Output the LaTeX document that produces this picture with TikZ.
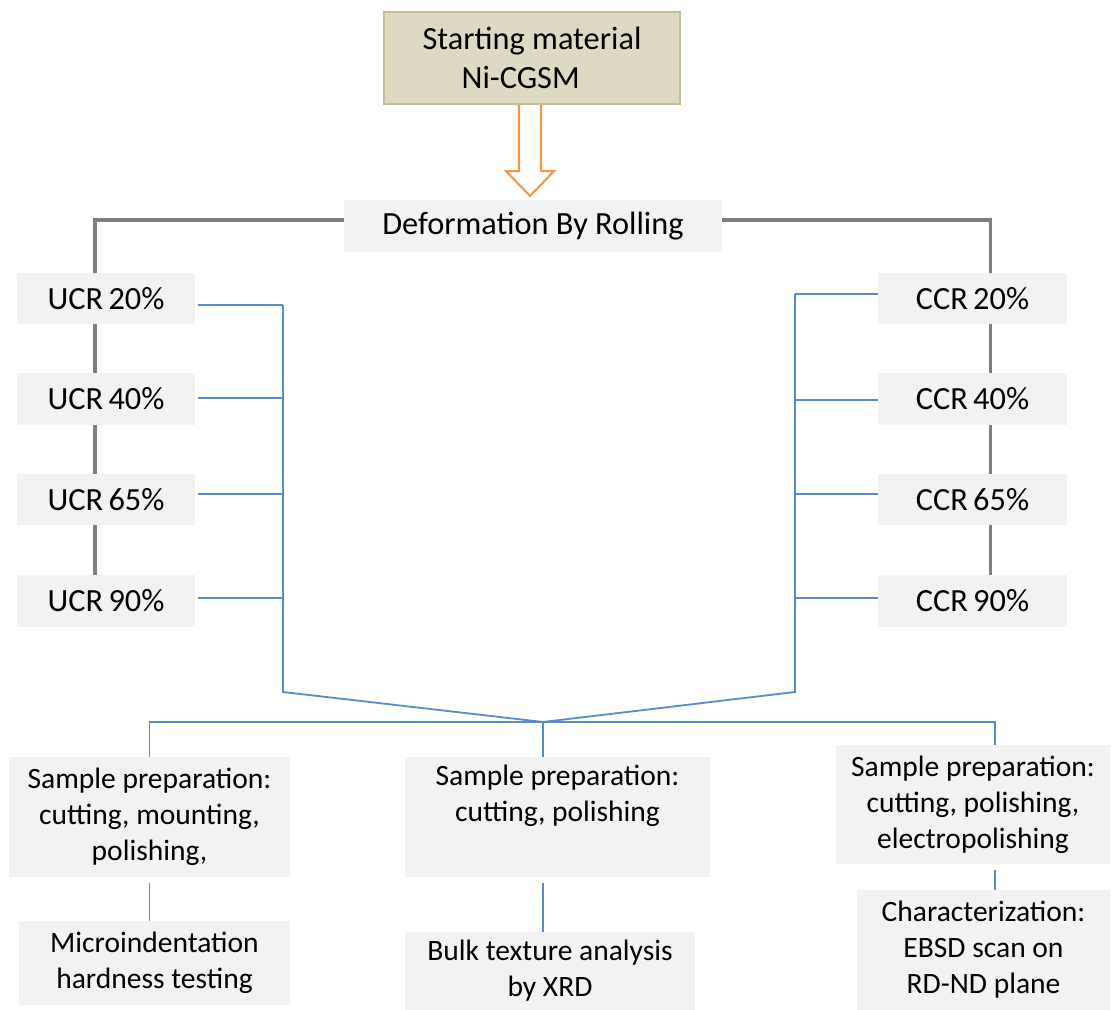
\documentclass[tikz,border=0pt]{standalone}
\usepackage{fontspec}
\setmainfont{Carlito}
\usepackage{tikz}
\usetikzlibrary{positioning,calc}
\definecolor{boxgray}{HTML}{F2F2F2}
\definecolor{linegray}{HTML}{7F7F7F}
\definecolor{lineblue}{HTML}{5B8BCB}
\definecolor{arroworange}{HTML}{F79646}
\definecolor{tanfill}{HTML}{DDD9C3}
\definecolor{tanedge}{HTML}{C4BD97}
\tikzset{
  graybox/.style={fill=boxgray, align=center, inner sep=0pt, font=\fontsize{23}{26}\selectfont},
  prepbox/.style={graybox, font=\fontsize{21}{25.6}\selectfont},
  grayline/.style={linegray, line width=2.2pt},
  blueline/.style={lineblue, line width=1.3pt}
}

\begin{document}
\begin{tikzpicture}[x=0.025cm, y=-0.025cm]
\useasboundingbox (0,0) rectangle (1113,1010);
\node[fill=tanfill, draw=tanedge, line width=1.5pt, align=center, minimum width=7.4cm, minimum height=2.3cm, font=\fontsize{23}{28}\selectfont] (start) at (532,58) {Starting material\\Ni-CGSM\hspace*{0.7em}};
\node[graybox, minimum width=9.45cm, minimum height=1.3cm] (deform) at (533,226) {Deformation By Rolling};

\foreach \p/\y in {20/298.5, 40/399, 65/499.5, 90/601} {
  \node[graybox, minimum width=4.45cm, minimum height=1.275cm] (ucr\p) at (106,\y) {UCR\,\p\%};
  \node[graybox, minimum width=4.725cm, minimum height=1.275cm] (ccr\p) at (972.5,\y) {CCR\,\p\%};
}

\node[prepbox, minimum width=7.025cm, minimum height=3cm] (prepL) at (149.5,817) {Sample preparation:\\cutting, mounting,\\polishing,};
\node[prepbox, minimum width=7.625cm, minimum height=3cm] (prepM) at (557.5,817) {Sample preparation:\\cutting, polishing\\\strut};
\node[prepbox, minimum width=6.85cm, minimum height=2.975cm] (prepR) at (973,804.5) {Sample preparation:\\cutting, polishing,\\electropolishing};
\node[prepbox, minimum width=6.775cm, minimum height=2.1cm] (resL) at (154.5,963) {Microindentation\\hardness testing};
\node[prepbox, minimum width=7.25cm, minimum height=1.95cm] (resM) at (550,971) {Bulk texture analysis\\by XRD};
\node[prepbox, minimum width=6.325cm, minimum height=3cm] (resR) at (983.5,950) {Characterization:\\EBSD scan on\\RD-ND plane};

\draw[arroworange, line width=1.5pt, fill=white] ($(start.south)+(-13,0)$) -- ($(start.south)+(-13,66)$) -- ($(start.south)+(-26,66)$) -- ($(start.south)+(-2,91)$) -- ($(start.south)+(22,66)$) -- ($(start.south)+(9,66)$) -- ($(start.south)+(9,0)$);

\draw[grayline] ([yshift=0.15cm]deform.west) -| ([xshift=-0.275cm]ucr20.north);
\draw[grayline] ([yshift=0.15cm]deform.east) -| ([xshift=0.45cm]ccr20.north);
\foreach \a/\b in {20/40, 40/65, 65/90} {
  \draw[grayline] ([xshift=-0.275cm]ucr\a.south) -- ([xshift=-0.275cm]ucr\b.north);
  \draw[grayline] ([xshift=0.45cm]ccr\a.south) -- ([xshift=0.45cm]ccr\b.north);
}

\coordinate (lbus) at (283,692);
\coordinate (rbus) at (795,692);
\coordinate (merge) at (543,722);
\foreach \p/\dl/\dr in {20/-0.16/0.11, 40/0.02/-0.02, 65/0.14/0.14, 90/0.08/0.08} {
  \draw[blueline] ([xshift=2pt, yshift=\dl cm]ucr\p.east) -- ([yshift=\dl cm]ucr\p.east -| lbus);
  \draw[blueline] ([yshift=\dr cm]ccr\p.west) -- ([yshift=\dr cm]ccr\p.west -| rbus);
}
\draw[blueline] ([yshift=-0.16cm]ucr20.east -| lbus) -- (lbus) -- (merge) -- (rbus) -- ([yshift=0.11cm]ccr20.west -| rbus);
\draw[blueline] (prepL.north) |- (merge) -| ([xshift=0.55cm]prepR.north);
\draw[blueline] (merge) -- (merge |- prepM.north);
\draw[blueline] ([yshift=-4pt]prepL.south) -- (prepL.south |- resL.north);
\draw[blueline] ([yshift=-4pt]merge |- prepM.south) -- (merge |- resM.north);
\draw[blueline] ([xshift=0.55cm, yshift=-4pt]prepR.south) -- ([xshift=0.55cm]prepR.south |- resR.north);
\end{tikzpicture}
\end{document}
